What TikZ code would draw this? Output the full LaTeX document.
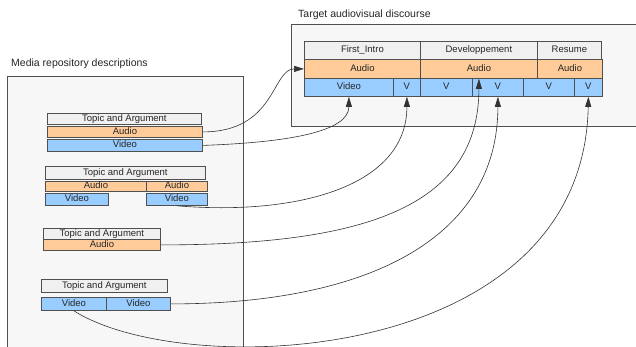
\documentclass[tikz,border=0pt]{standalone}
\usepackage{fontspec}
\setmainfont{Liberation Sans}
\usetikzlibrary{arrows.meta}

\definecolor{panelgray}{HTML}{F7F7F7}
\definecolor{topicgray}{HTML}{F0F0F0}
\definecolor{audioorange}{HTML}{FFCC99}
\definecolor{videoblue}{HTML}{99CCFF}
\definecolor{linegray}{HTML}{505050}

\tikzset{
	mediacell/.style={draw=linegray, line width=0.8pt, anchor=north west, inner sep=0pt,
	                  text height=6.8pt, text depth=1.8pt, text=black!85,
	                  font=\fontsize{9.5}{10}\selectfont},
	topicbox/.style={mediacell, fill=topicgray},
	audiobox/.style={mediacell, fill=audioorange},
	videobox/.style={mediacell, fill=videoblue},
	cellsize/.style 2 args={minimum width=#1, minimum height=#2},
	paneltitle/.style={anchor=west, inner sep=0pt, text=black!85, font=\fontsize{10.5}{12}\selectfont},
	link/.style={draw=black!80, line width=0.6pt},
	linkarrow/.style={link, -{Triangle[length=10pt,width=6pt]}}
}

\begin{document}
\begin{tikzpicture}[x=1pt, y=-1pt]
	\useasboundingbox (0,0) rectangle (636,346);
	\clip (0,0) rectangle (636,346);
	\fill[white] (0,0) rectangle (636,346);

	\draw[draw=linegray, fill=panelgray, line width=0.8pt] (7,76) rectangle (243,360);
	\draw[draw=linegray, fill=panelgray, line width=0.8pt] (291,24) rectangle (650,126);
	\node (repotitle) [paneltitle] at (11,64) {Media repository descriptions};
	\node (targettitle) [paneltitle] at (298,15) {Target audiovisual discourse};

	\node (tfirst)  [topicbox, cellsize={116}{18}] at (304,41) {First\_Intro};
	\node (tdevel)  [topicbox, cellsize={117}{18}] at (420,41) {Developpement};
	\node (tresume) [topicbox, cellsize={64}{18}]  at (537,41) {Resume};
	\node (taudio1) [audiobox, cellsize={116}{19}] at (304,59) {Audio};
	\node (taudio2) [audiobox, cellsize={117}{19}] at (420,59) {Audio};
	\node (taudio3) [audiobox, cellsize={65}{19}]  at (537,59) {Audio};
	\node (tvideo)  [videobox, cellsize={89}{18}]  at (304,78) {Video};
	\node (tv1)     [videobox, cellsize={27}{18}]  at (393,78) {V};
	\node (tv2)     [videobox, cellsize={52}{18}]  at (420,78) {V};
	\node (tv3)     [videobox, cellsize={51}{18}]  at (472,78) {V};
	\node (tv4)     [videobox, cellsize={51}{18}]  at (523,78) {V};
	\node (tv5)     [videobox, cellsize={28}{18}]  at (574,78) {V};

	\node (g1topic)  [topicbox, cellsize={154}{11}] at (47,113) {Topic and Argument};
	\node (g1audio)  [audiobox, cellsize={155}{11}] at (47,126) {Audio};
	\node (g1video)  [videobox, cellsize={155}{12}] at (47,139) {Video};

	\node (g2topic)  [topicbox, cellsize={160}{13}] at (45,166) {Topic and Argument};
	\node (g2audio1) [audiobox, cellsize={101}{10}] at (45,181) {Audio};
	\node (g2audio2) [audiobox, cellsize={61}{10}]  at (146,181) {Audio};
	\node (g2video1) [videobox, cellsize={63}{12}]  at (45,193) {Video};
	\node (g2video2) [videobox, cellsize={61}{12}]  at (146,193) {Video};

	\node (g3topic)  [topicbox, cellsize={117}{11}] at (43,228) {Topic and Argument};
	\node (g3audio)  [audiobox, cellsize={117}{11}] at (43,239) {Audio};

	\node (g4topic)  [topicbox, cellsize={126}{13}] at (41,279) {Topic and Argument};
	\node (g4video1) [videobox, cellsize={65}{13}]  at (41,297) {Video};
	\node (g4video2) [videobox, cellsize={64}{13}]  at (106,297) {Video};

	\draw[linkarrow] (g1audio.east) .. controls +(73,0) and +(-32,0) .. (taudio1.west);
	\draw[linkarrow] (g1video.east) .. controls +(85,-3) and +(0,35) .. (tvideo.south);
	\draw[linkarrow] (g2video2.south) .. controls +(120,10) and +(0,90) .. (tv1.south);
	\draw[linkarrow] (g3audio.east) .. controls +(200,0) and +(0,130) .. (taudio2.south);
	\draw[linkarrow] (g4video2.east) .. controls +(200,0) and +(0,140) .. (tv3.south);
	\draw[linkarrow] (g4video1.south) .. controls +(110,70) and +(-5,270) .. (tv5.south);
\end{tikzpicture}
\end{document}
